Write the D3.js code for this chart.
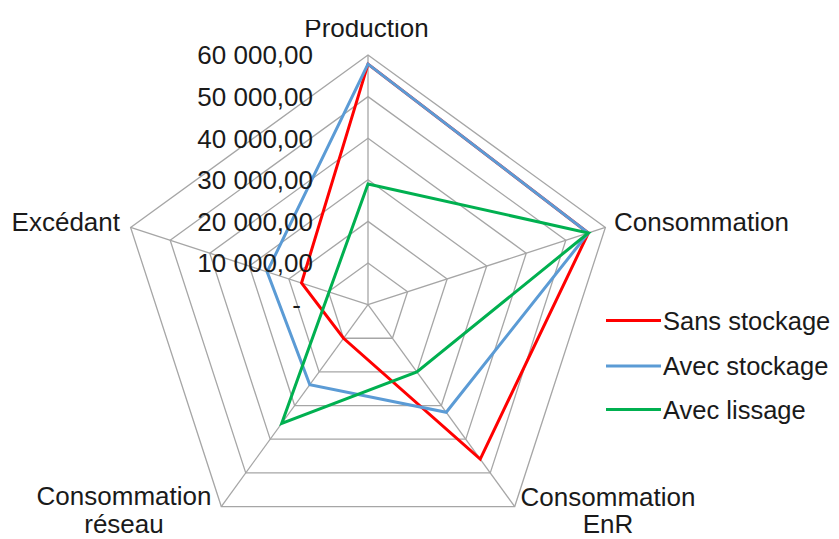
<!DOCTYPE html>
<html>
<head>
<meta charset="utf-8">
<script src="https://cdn.jsdelivr.net/npm/d3@7/dist/d3.min.js"></script>
<style>
  html, body { margin: 0; padding: 0; background: #fff; }
  svg { display: block; }
  text { font-family: "Liberation Sans", Arial, sans-serif; fill: #1a1a1a; }
</style>
</head>
<body>
<svg id="chart" width="839" height="539"></svg>
<script>
// ---- data ----
const categories = ["Production", "Consommation", "Consommation EnR", "Consommation réseau", "Excédant"];
const seriesNames = ["Sans stockage", "Avec stockage", "Avec lissage"];
const sansStockage = [57800, 55700, 45900, 10000, 16800];
const avecStockage = [57800, 55700, 32000, 23800, 25500];
const avecLissage  = [29000, 55700, 20000, 35300, null];
const tickValues = [0, 10000, 20000, 30000, 40000, 50000, 60000];
const tickLabels = ["-", "10 000,00", "20 000,00", "30 000,00", "40 000,00", "50 000,00", "60 000,00"];
const colors = ["#ff0000", "#5b9bd5", "#00b050"];

// ---- layout ----
const svg = d3.select("#chart");
const cx = 368, cy = 304.6, R = 249.6;
const g = svg.append("g").attr("transform", `translate(${cx},${cy})`);

const rScale = d3.scaleLinear().domain([0, 60000]).range([0, R]);
const aScale = d3.scaleLinear().domain([0, categories.length]).range([0, 2 * Math.PI]);

const pt = (i, v) => {
  const a = aScale(i);
  return [Math.sin(a) * rScale(v), -Math.cos(a) * rScale(v)];
};

// grid rings
tickValues.filter(v => v > 0).forEach(v => {
  g.append("path")
    .attr("d", d3.line()(categories.map((c, i) => pt(i, v))) + "Z")
    .attr("fill", "none")
    .attr("stroke", "#a6a6a6")
    .attr("stroke-width", 1.3);
});
// spokes
categories.forEach((c, i) => {
  const p = pt(i, 60000);
  g.append("line")
    .attr("x1", 0).attr("y1", 0).attr("x2", p[0]).attr("y2", p[1])
    .attr("stroke", "#a6a6a6").attr("stroke-width", 1.3);
});

// series
const allSeries = [sansStockage, avecStockage, avecLissage];
const lineR = d3.lineRadial()
  .angle(d => aScale(d.i))
  .radius(d => rScale(d.v))
  .curve(d3.curveLinearClosed);
allSeries.forEach((vals, s) => {
  const pts = vals.map((v, i) => ({ i, v })).filter(d => d.v !== null);
  g.append("path")
    .attr("d", lineR(pts))
    .attr("fill", "none")
    .attr("stroke", colors[s])
    .attr("stroke-width", 3)
    .attr("stroke-linejoin", "miter");
});

// tick labels
const fs = 26;
tickValues.forEach((v, k) => {
  const y = -rScale(v);
  g.append("text")
    .attr("x", v === 0 ? -67 : -55)
    .attr("y", y)
    .attr("dy", "0.36em")
    .attr("text-anchor", "end")
    .style("font-size", fs + "px")
    .text(tickLabels[k]);
});

// category labels
svg.append("defs").append("clipPath").attr("id", "topclip")
  .append("rect").attr("x", 0).attr("y", 20).attr("width", 839).attr("height", 519);

const labelPos = [
  { x: 366.5, y: 37, anchor: "middle", clip: true },
  { x: 614, y: 231, anchor: "start" },
  { x: 608, y: 505.5, anchor: "middle" },
  { x: 124, y: 505, anchor: "middle" },
  { x: 120, y: 231, anchor: "end" }
];
categories.forEach((c, i) => {
  const p = labelPos[i];
  const words = c === "Consommation EnR" ? ["Consommation", "EnR"]
              : c === "Consommation réseau" ? ["Consommation", "réseau"]
              : [c];
  const t = svg.append("text")
    .attr("x", p.x).attr("y", p.y)
    .attr("text-anchor", p.anchor)
    .style("font-size", fs + "px");
  if (p.clip) t.attr("clip-path", "url(#topclip)");
  words.forEach((w, j) => {
    t.append("tspan").attr("x", p.x).attr("dy", j === 0 ? 0 : 27.5).text(w);
  });
});

// legend
const legendY = [320.5, 366, 409.5];
seriesNames.forEach((name, s) => {
  svg.append("line")
    .attr("x1", 606).attr("x2", 661)
    .attr("y1", legendY[s]).attr("y2", legendY[s])
    .attr("stroke", colors[s]).attr("stroke-width", 3);
  svg.append("text")
    .attr("x", 663).attr("y", legendY[s])
    .attr("dy", "0.36em")
    .style("font-size", "25.5px")
    .text(name);
});
</script>
</body>
</html>
